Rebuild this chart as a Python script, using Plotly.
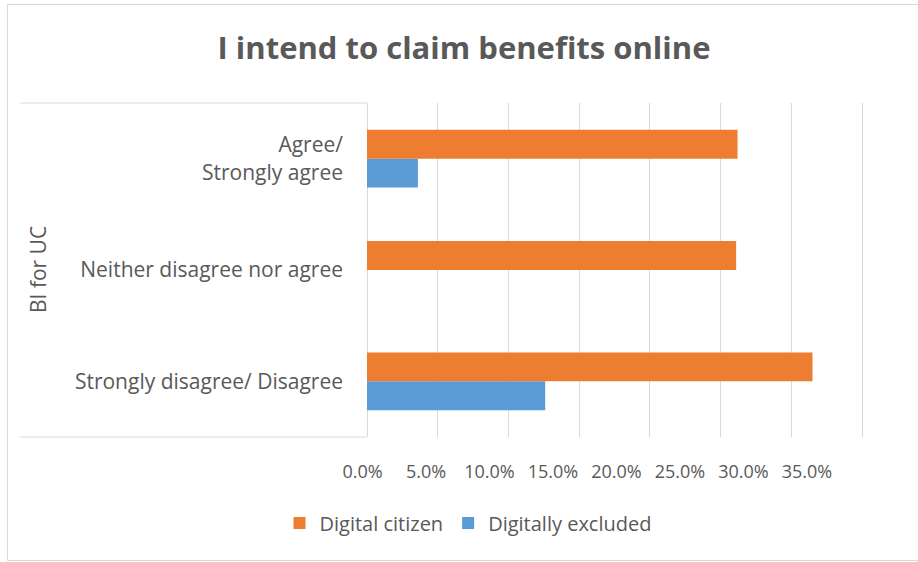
import plotly.graph_objects as go

# Survey responses, bottom-to-top order on the category axis
categories = ["Strongly disagree/ Disagree", "Neither disagree nor agree", "Agree/<br>Strongly agree"]
digital_citizen = [0.315, 0.261, 0.262]
digitally_excluded = [0.126, 0.0, 0.036]
tick_values = [0.0, 0.05, 0.10, 0.15, 0.20, 0.25, 0.30, 0.35]
tick_labels = ["0.0%", "5.0%", "10.0%", "15.0%", "20.0%", "25.0%", "30.0%", "35.0%"]

FONT = "Open Sans"
TEXT = "#595959"
GRID = "#d9d9d9"
ORANGE = "#ed7d31"
BLUE = "#5b9bd5"

W, H = 918, 562
L, R, T, B = 360, 53, 103, 125
PW, PH = W - L - R, H - T - B

def px_x(p):
    return (p - L) / PW

def px_y(p):
    return (H - B - p) / PH

# value axis: 0 sits at x=367 px and 35% at x=862 px
zero_px, top_px = 367.0, 862.0
val_step = (top_px - zero_px) / 0.35
x_range = [(L - zero_px) / val_step, (W - R - zero_px) / val_step]

# labelled axis shares the domain but places its labels on its own scale
lab_left, lab_step = 362.5, 63.5 / 0.05
x2_range = [(L - lab_left) / lab_step, (W - R - lab_left) / lab_step]

fig = go.Figure()
fig.add_trace(go.Bar(
    y=categories, x=digitally_excluded, orientation="h", name="Digitally excluded",
    marker=dict(color=BLUE, line=dict(width=0)),
))
fig.add_trace(go.Bar(
    y=categories, x=digital_citizen, orientation="h", name="Digital citizen",
    marker=dict(color=ORANGE, line=dict(width=0)),
))
# carrier for the labelled percentage axis
fig.add_trace(go.Scatter(x=[None], y=[None], xaxis="x2", showlegend=False, hoverinfo="skip"))

fig.update_layout(
    width=W, height=H,
    margin=dict(l=L, r=R, t=T, b=B, pad=0),
    paper_bgcolor="white", plot_bgcolor="white",
    font=dict(family=FONT, color=TEXT, size=21),
    barmode="group", bargap=0.48, bargroupgap=0,
    title=dict(text="<b>I intend to claim benefits online</b>", x=(464 / W), xref="container",
               xanchor="center", y=1 - 48 / H, yref="container", yanchor="middle",
               font=dict(family=FONT, size=31, color=TEXT)),
    xaxis=dict(range=x_range, tick0=0, dtick=0.05, showgrid=True, gridcolor=GRID, gridwidth=1,
               showticklabels=False, zeroline=True, zerolinecolor=GRID, zerolinewidth=1,
               showline=False, ticks="", fixedrange=True),
    xaxis2=dict(overlaying="x", anchor="y", side="bottom", range=x2_range,
                tickvals=tick_values, ticktext=tick_labels, showgrid=False, zeroline=False,
                showline=False, ticks="", ticklabelstandoff=22,
                tickfont=dict(family=FONT, size=18, color=TEXT)),
    yaxis=dict(categoryorder="array", categoryarray=categories, showgrid=False,
               zeroline=False, showline=False, ticks="", ticklabelstandoff=16,
               tickfont=dict(family=FONT, size=21, color=TEXT)),
    legend=dict(orientation="h", x=px_x(468), xanchor="center", y=px_y(523), yanchor="middle",
                traceorder="reversed", font=dict(family=FONT, size=20, color=TEXT),
                itemwidth=30, bgcolor="rgba(0,0,0,0)"),
    showlegend=True,
)

# category-axis frame and outer chart border
fig.add_shape(type="line", xref="paper", yref="paper", x0=px_x(20), x1=px_x(zero_px), y0=1, y1=1,
              line=dict(color=GRID, width=1))
fig.add_shape(type="line", xref="paper", yref="paper", x0=px_x(20), x1=px_x(zero_px), y0=0, y1=0,
              line=dict(color=GRID, width=1))
fig.add_shape(type="rect", xref="paper", yref="paper", x0=px_x(7.5), x1=px_x(925),
              y0=px_y(560.5), y1=px_y(4.5), line=dict(color=GRID, width=1), layer="below")

fig.add_annotation(text="BI for UC", xref="paper", yref="paper", x=px_x(38), y=px_y(270),
                   textangle=-90, showarrow=False, xanchor="center", yanchor="middle",
                   font=dict(family=FONT, size=21, color=TEXT))

fig.write_html("out.html")
